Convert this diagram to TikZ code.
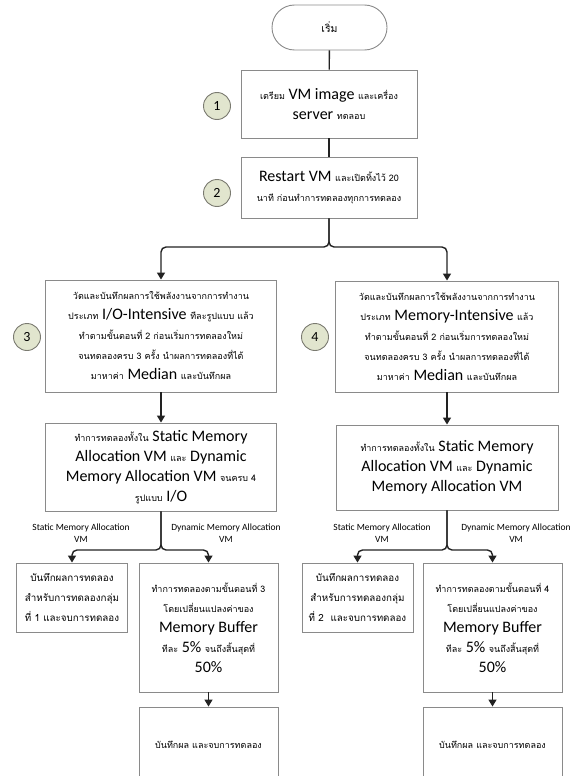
\documentclass[tikz,border=0pt]{standalone}
\usepackage{fontspec}
\setmainfont{Carlito}
\newfontfamily\thaifont[Script=Thai]{Loma}
\usetikzlibrary{arrows.meta,shapes.misc}
\definecolor{boxgray}{HTML}{8A8A8A}
\definecolor{circfill}{HTML}{E1E5CE}
\definecolor{circdraw}{HTML}{7A7A70}
\definecolor{linecol}{HTML}{222222}
\newcommand\thsz{9}
\newcommand\T[1]{{\thaifont\fontsize{\thsz}{20}\selectfont #1}}
\tikzset{
  box/.style={draw=boxgray, line width=0.9pt, fill=white, align=center, inner sep=0pt,
    font=\fontsize{16}{20}\selectfont},
  numcirc/.style={circle, draw=circdraw, line width=0.9pt, fill=circfill, minimum size=27pt,
    inner sep=0pt, font=\fontsize{14}{16}\selectfont},
  conn/.style={draw=linecol, line width=1.4pt},
  arr/.style={conn, -{Triangle[width=8pt,length=7pt]}},
  lbl/.style={align=center, font=\fontsize{9.5}{12}\selectfont, inner sep=0pt}
}
\begin{document}
\begin{tikzpicture}[x=1pt,y=-1pt]
\useasboundingbox (0,0) rectangle (579,776);
\clip (0,0) rectangle (579,776);
% start
\node[draw=boxgray, line width=0.9pt, rounded rectangle, minimum width=115pt, minimum height=45pt, inner sep=0pt] (start) at (329.5,27.5) {\renewcommand\thsz{10.5}\T{เริ่ม}};
% box 1 and 2
\node[box, minimum width=176pt, minimum height=68pt] (b1) at (329,104) {\T{เตรียม} VM image \T{และเครื่อง}\\ server \T{ทดลอบ}};
\node[numcirc] (n1) at (217,106) {1};
\node[box, minimum width=176pt, minimum height=61pt] (b2) at (329,187.5) {Restart VM \T{และเปิดทิ้งไว้ 20}\\ \T{นาที ก่อนทำการทดลองทุกการทดลอง}};
\node[numcirc] (n2) at (217,193) {2};
% box 3 and 4
\node[box, minimum width=231pt, minimum height=112pt] (b3) at (161,336) {\T{วัดและบันทึกผลการใช้พลังงานจากการทำงาน}\\ \T{ประเภท} I/O-Intensive \T{ทีละรูปแบบ แล้ว}\\ \T{ทำตามขั้นตอนที่ 2 ก่อนเริ่มการทดลองใหม่}\\ \T{จนทดลองครบ 3 ครั้ง นำผลการทดลองที่ได้}\\ \T{มาหาค่า} Median \T{และบันทึกผล}};
\node[numcirc] (n3) at (27,337) {3};
\node[box, minimum width=223pt, minimum height=111pt] (b4) at (447,336.5) {\T{วัดและบันทึกผลการใช้พลังงานจากการทำงาน}\\ \T{ประเภท} Memory-Intensive \T{แล้ว}\\ \T{ทำตามขั้นตอนที่ 2 ก่อนเริ่มการทดลองใหม่}\\ \T{จนทดลองครบ 3 ครั้ง นำผลการทดลองที่ได้}\\ \T{มาหาค่า} Median \T{และบันทึกผล}};
\node[numcirc] (n4) at (315,337) {4};
% box 5 and 6
\node[box, minimum width=231pt, minimum height=88pt] (b5) at (161,467) {\T{ทำการทดลองทั้งใน} Static Memory\\ Allocation VM \T{และ} Dynamic\\ Memory Allocation VM \T{จนครบ 4}\\ \T{รูปแบบ} I/O};
\node[box, minimum width=222pt, minimum height=85pt] (b6) at (447,467.5) {\T{ทำการทดลองทั้งใน} Static Memory\\ Allocation VM \T{และ} Dynamic\\ Memory Allocation VM};
% bottom left
\node[box, minimum width=111pt, minimum height=69pt] (b7) at (72,597.5) {\renewcommand\thsz{9.8}\T{บันทึกผลการทดลอง}\\ \renewcommand\thsz{9.8}\T{สำหรับการทดลองกลุ่ม}\\ \renewcommand\thsz{9.8}\T{ที่ 1 และจบการทดลอง}};
\node[box, minimum width=139pt, minimum height=129pt] (b8) at (208.5,627.5) {\T{ทำการทดลองตามขั้นตอนที่ 3}\\ \T{โดยเปลี่ยนแปลงค่าของ}\\ Memory Buffer\\ \T{ทีละ} 5\% \T{จนถึงสิ้นสุดที่}\\ 50\%};
\node[box, minimum width=139pt, minimum height=76pt] (b9) at (208.5,745) {\T{บันทึกผล และจบการทดลอง}};
% bottom right
\node[box, minimum width=111pt, minimum height=69pt] (b10) at (357.5,597.5) {\renewcommand\thsz{9.8}\T{บันทึกผลการทดลอง}\\ \renewcommand\thsz{9.8}\T{สำหรับการทดลองกลุ่ม}\\ \renewcommand\thsz{9.8}\T{ที่ 2 \ และจบการทดลอง}};
\node[box, minimum width=139pt, minimum height=129pt] (b11) at (492.5,627.5) {\T{ทำการทดลองตามขั้นตอนที่ 4}\\ \T{โดยเปลี่ยนแปลงค่าของ}\\ Memory Buffer\\ \T{ทีละ} 5\% \T{จนถึงสิ้นสุดที่}\\ 50\%};
\node[box, minimum width=139pt, minimum height=76pt] (b12) at (492.5,745) {\T{บันทึกผล และจบการทดลอง}};
% labels
\node[lbl] (l1) at (81,533) {Static Memory Allocation\\VM};
\node[lbl] (l2) at (226,533) {Dynamic Memory Allocation\\VM};
\node[lbl] (l3) at (382,533) {Static Memory Allocation\\VM};
\node[lbl] (l4) at (516,533) {Dynamic Memory Allocation\\VM};
% connectors
\draw[conn] (start) -- (b1);
\draw[conn] (b1) -- (b2);
\coordinate (j2) at (329,247);
\draw[arr, rounded corners=5pt] (b2.south) -- (b2.south |- j2) -- (j2 -| b3.north) -- (b3.north);
\draw[arr, rounded corners=5pt] (b2.south) -- (b2.south |- j2) -- (j2 -| b4.north) -- (b4.north);
\draw[arr] (b3) -- (b5);
\draw[arr] (b4) -- (b6);
\coordinate (j5) at (161,550);
\draw[arr, rounded corners=5pt] (b5.south) -- (b5.south |- j5) -- (j5 -| b7.north) -- (b7.north);
\draw[arr, rounded corners=5pt] (b5.south) -- (b5.south |- j5) -- (j5 -| b8.north) -- (b8.north);
\coordinate (j6) at (447,550);
\draw[arr, rounded corners=5pt] (b6.south) -- (b6.south |- j6) -- (j6 -| b10.north) -- (b10.north);
\draw[arr, rounded corners=5pt] (b6.south) -- (b6.south |- j6) -- (j6 -| b11.north) -- (b11.north);
\draw[arr] (b8) -- (b9);
\draw[arr] (b11) -- (b12);
\end{tikzpicture}
\end{document}
